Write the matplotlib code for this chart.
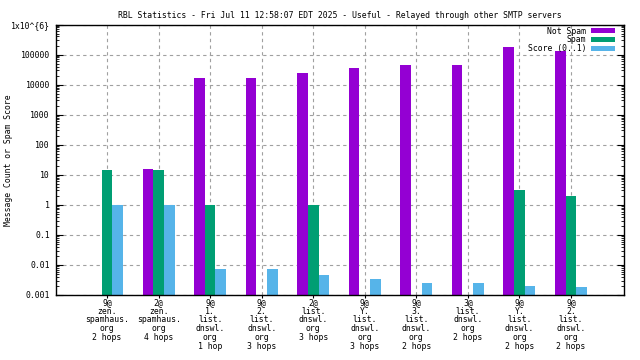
import numpy as np
import matplotlib
matplotlib.use("Agg")
import matplotlib.pyplot as plt
from matplotlib.patches import Patch
from matplotlib.ticker import FixedLocator, LogLocator, NullFormatter

categories = [
    "9@\nzen.\nspamhaus.\norg\n2 hops",
    "2@\nzen.\nspamhaus.\norg\n4 hops",
    "9@\n1.\nlist.\ndnswl.\norg\n1 hop",
    "9@\n2.\nlist.\ndnswl.\norg\n3 hops",
    "2@\nlist.\ndnswl.\norg\n3 hops",
    "9@\nY.\nlist.\ndnswl.\norg\n3 hops",
    "9@\n3.\nlist.\ndnswl.\norg\n2 hops",
    "3@\nlist.\ndnswl.\norg\n2 hops",
    "9@\nY.\nlist.\ndnswl.\norg\n2 hops",
    "9@\n2.\nlist.\ndnswl.\norg\n2 hops",
]
not_spam = [0, 16, 16000, 16000, 25000, 35000, 44000, 44000, 177000, 130000]
spam = [14, 14, 1, 0, 1, 0, 0, 0, 3.2, 2.0]
score = [1, 1, 0.0075, 0.0075, 0.0048, 0.0035, 0.0026, 0.0026, 0.0020, 0.0019]

series_names = ["Not Spam", "Spam", "Score (0..1)"]
colors = ["#9400d3", "#009e73", "#56b4e9"]
ytick_vals = [1e-3, 1e-2, 1e-1, 1, 10, 100, 1000, 10000, 100000, 1e6]
ytick_labels = ["0.001", "0.01", "0.1", "1", "10", "100", "1000", "10000", "100000", "1x10^{6}"]
title = "RBL Statistics - Fri Jul 11 12:58:07 EDT 2025 - Useful - Relayed through other SMTP servers"
ylabel = "Message Count or Spam Score"

FONT = "DejaVu Sans Mono"
FS = 5.9

fig = plt.figure(figsize=(6.4, 3.6), dpi=100)
ax = fig.add_axes([55.5 / 640, 1 - 295 / 360, (624 - 55.5) / 640, (295 - 24.5) / 360])

x = np.arange(len(categories))
w = 0.207
for k, (vals, c) in enumerate(zip([not_spam, spam, score], colors)):
    v = np.array(vals, dtype=float)
    v[v <= 0] = np.nan
    ax.bar(x + (k - 1) * w, v, width=w, color=c, zorder=3, linewidth=0)

ax.set_yscale("log")
ax.set_ylim(1e-3, 1e6)
ax.set_xlim(-1, 10.03)

ax.yaxis.set_major_locator(FixedLocator(ytick_vals))
ax.set_yticklabels(ytick_labels, fontfamily=FONT, fontsize=FS)
ax.yaxis.set_minor_locator(LogLocator(base=10, subs=np.arange(2, 10), numticks=20))
ax.yaxis.set_minor_formatter(NullFormatter())
ax.tick_params(axis="y", which="major", direction="in", length=5, width=0.8, right=True, pad=4)
ax.tick_params(axis="y", which="minor", direction="in", length=2.5, width=0.6, right=True)

ax.set_xticks(x)
ax.set_xticklabels(categories, fontfamily=FONT, fontsize=FS, linespacing=0.98, va="top")
ax.tick_params(axis="x", which="major", direction="out", length=2.5, width=0.8, pad=-0.5)

ax.grid(True, which="major", axis="both", color="#a0a0a0", linestyle=(0, (3, 3)), linewidth=0.8, zorder=0)
ax.set_axisbelow(True)
for s in ax.spines.values():
    s.set_linewidth(1.0)
    s.set_color("black")
    s.set_zorder(5)

handles = [Patch(facecolor=c, edgecolor="none") for c in colors]
leg = ax.legend(handles, series_names, loc="upper right", bbox_to_anchor=(1 - 9 / 568.5, 1 - 2 / 270.5),
                frameon=False, markerfirst=False, prop={"family": FONT, "size": FS},
                handlelength=2.9, handleheight=0.55, handletextpad=0.6, labelspacing=0.0,
                borderpad=0, borderaxespad=0)
for t in leg.get_texts():
    t.set_ha("right")

fig.text((55.5 + 624) / 2 / 640, 1 - 15 / 360, title, ha="center", va="center", fontfamily=FONT, fontsize=FS)
fig.text(9 / 640, 1 - 160 / 360, ylabel, rotation=90, ha="center", va="center", fontfamily=FONT, fontsize=FS)

fig.savefig("out.png", dpi=100)
